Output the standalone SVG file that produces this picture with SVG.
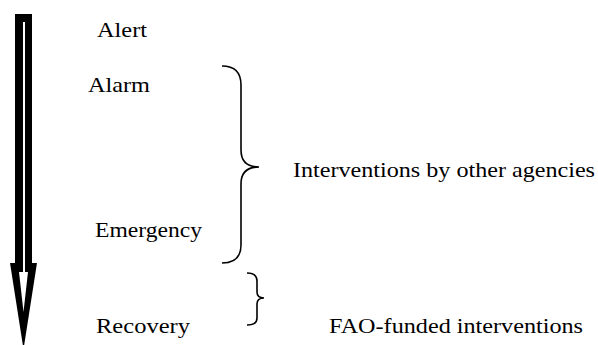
<svg xmlns="http://www.w3.org/2000/svg" width="598" height="345" viewBox="0 0 598 345">
<style>
text{font-family:"Liberation Serif","Times New Roman",serif;font-size:21px;fill:#000}
.brace{fill:none;stroke:#000;stroke-width:1.6}
</style>
<rect width="598" height="345" fill="#fff"/>
<g id="arrow">
<rect x="15" y="14" width="17" height="251" fill="#000"/>
<polygon points="10,263 37,263 24,346 23,346" fill="#000"/>
<rect x="23" y="22" width="2" height="252" fill="#fff"/>
<polygon points="19,272 28,272 23.5,312" fill="#fff"/>
</g>
<g id="alert"><text x="97" y="37" textLength="50" lengthAdjust="spacingAndGlyphs">Alert</text></g>
<g id="alarm"><text x="88" y="92" textLength="62" lengthAdjust="spacingAndGlyphs">Alarm</text></g>
<g id="emergency"><text x="95" y="237" textLength="107" lengthAdjust="spacingAndGlyphs">Emergency</text></g>
<g id="recovery"><text x="96" y="333" textLength="94" lengthAdjust="spacingAndGlyphs">Recovery</text></g>
<g id="other"><text x="293" y="177" textLength="302" lengthAdjust="spacingAndGlyphs">Interventions by other agencies</text></g>
<g id="fao"><text x="329" y="333" textLength="254" lengthAdjust="spacingAndGlyphs">FAO-funded interventions</text></g>
<g id="connectors">
<path class="brace" d="M222,66 Q241,66 241,85 L241,150 Q241,167 259,167 Q241,167 241,184 L241,245 Q241,263 222,263"/>
<path class="brace" d="M247,273 Q257,273 257,281 L257,292 Q257,298 264,298 Q257,298 257,304 L257,318 Q257,325 247,325"/>
</g>
</svg>
